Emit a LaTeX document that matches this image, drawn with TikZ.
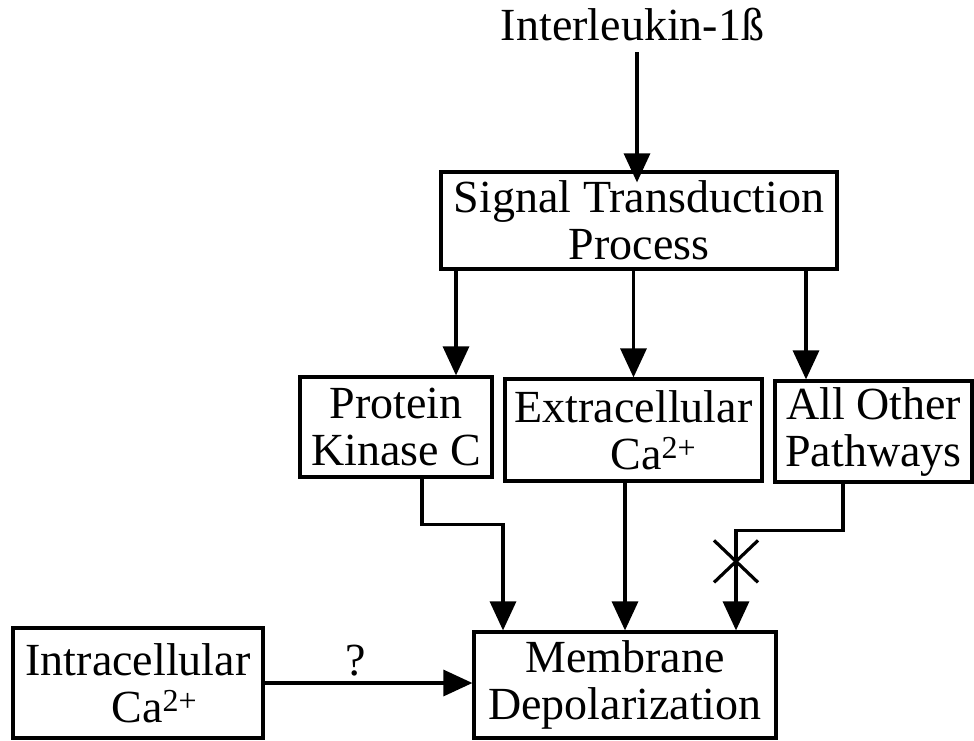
\documentclass[tikz,border=0pt]{standalone}
\usepackage{fontspec}
\setmainfont{Liberation Serif}
\usetikzlibrary{arrows.meta}
\newcommand{\supcharge}{\raisebox{5.5pt}{\fontsize{16pt}{16pt}\selectfont 2+}}
\begin{document}
\begin{tikzpicture}[x=0.5pt,y=-0.5pt,
  every node/.style={font=\fontsize{23pt}{23.5pt}\selectfont},
  box/.style={draw, line width=1.6pt, inner sep=0pt, align=center},
  arr/.style={line width=1.6pt, -{Triangle[length=14.5pt,width=13pt]}},
  conn/.style={line width=1.6pt},
]
\useasboundingbox (0,0) rectangle (974,740);
\node[anchor=base] (il) at (632.5,40) {Interleukin-1ß};
\node[box, minimum width=198pt, minimum height=48.5pt] (sig) at (639,220.5) {Signal Transduction\\Process};
\node[box, minimum width=96pt, minimum height=50pt] (pkc) at (396,427) {Protein\\Kinase C};
\node[box, minimum width=128.5pt, minimum height=51pt] (ext) at (633.5,430) {Extracellular\\\hspace*{19.5pt}Ca\supcharge};
\node[box, minimum width=98.5pt, minimum height=50.5pt] (oth) at (873.5,431.5) {All Other\\Pathways};
\node[box, minimum width=125pt, minimum height=55pt] (intra) at (138,683) {Intracellular\\\hspace*{16pt}Ca\supcharge};
\node[box, minimum width=151pt, minimum height=53pt] (mem) at (625,685) {Membrane\\Depolarization};

\draw[arr] ([xshift=2.25pt,yshift=-6pt]il.base) -- ([xshift=2.25pt,yshift=-6pt]il.base |- sig.north);
\draw[arr] ([xshift=30pt]pkc.north |- sig.south) -- ([xshift=30pt]pkc.north);
\draw[arr] (ext.north |- sig.south) -- (ext.north);
\draw[arr] ([xshift=-33.75pt]oth.north |- sig.south) -- ([xshift=-33.75pt]oth.north);

\draw[arr] ([xshift=13pt]pkc.south) -- ++(0,46) -| ([xshift=-61pt]mem.north);
\draw[arr] (ext.south -| mem.north) -- (mem.north);
\draw[arr] ([xshift=-15.25pt]oth.south) -- ++(0,47) -| ([xshift=55.5pt]mem.north);
\coordinate (xm) at ([xshift=55.5pt,yshift=34.5pt]mem.north);
\draw[conn] (xm) +(-22,-21) -- +(22,21) (xm) +(-22,21) -- +(22,-21);

\draw[arr] (intra.east) -- (intra.east -| mem.west) node[pos=0.44, anchor=base, yshift=4pt] {?};
\end{tikzpicture}
\end{document}
